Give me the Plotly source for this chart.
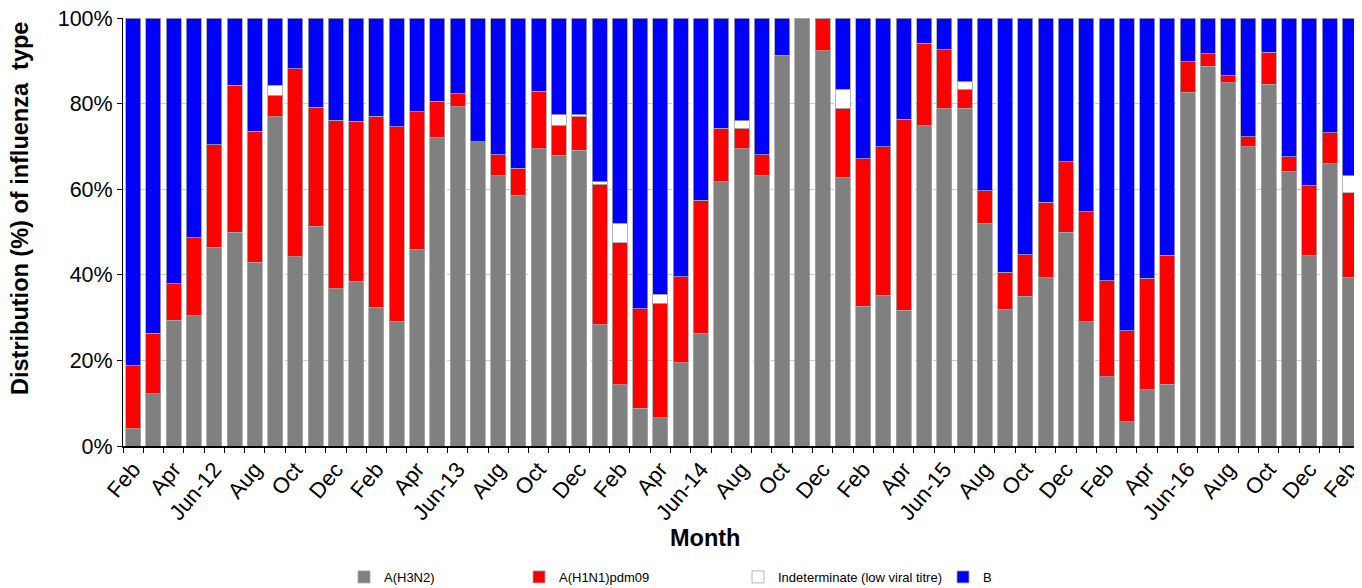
import plotly.graph_objects as go

months = ["Feb-12","Mar-12","Apr-12","May-12","Jun-12","Jul-12","Aug-12","Sep-12","Oct-12","Nov-12","Dec-12",
          "Jan-13","Feb-13","Mar-13","Apr-13","May-13","Jun-13","Jul-13","Aug-13","Sep-13","Oct-13","Nov-13","Dec-13",
          "Jan-14","Feb-14","Mar-14","Apr-14","May-14","Jun-14","Jul-14","Aug-14","Sep-14","Oct-14","Nov-14","Dec-14",
          "Jan-15","Feb-15","Mar-15","Apr-15","May-15","Jun-15","Jul-15","Aug-15","Sep-15","Oct-15","Nov-15","Dec-15",
          "Jan-16","Feb-16","Mar-16","Apr-16","May-16","Jun-16","Jul-16","Aug-16","Sep-16","Oct-16","Nov-16","Dec-16",
          "Jan-17","Feb-17"]

tick_labels = ["Feb","","Apr","","Jun-12","","Aug","","Oct","","Dec",
               "","Feb","","Apr","","Jun-13","","Aug","","Oct","","Dec",
               "","Feb","","Apr","","Jun-14","","Aug","","Oct","","Dec",
               "","Feb","","Apr","","Jun-15","","Aug","","Oct","","Dec",
               "","Feb","","Apr","","Jun-16","","Aug","","Oct","","Dec",
               "","Feb"]

h3n2 = [4.0,12.2,29.4,30.4,46.4,50.0,42.9,76.9,44.2,51.4,36.8,
        38.5,32.4,29.1,46.0,72.1,79.3,71.1,63.2,58.6,69.4,67.9,69.1,
        28.3,14.3,8.8,6.6,19.4,26.3,61.7,69.5,63.2,91.3,100.0,92.3,
        62.8,32.6,35.2,31.7,74.8,78.8,78.9,52.1,31.9,35.0,39.3,50.0,
        29.0,16.2,5.7,13.2,14.4,82.6,88.7,84.9,69.9,84.5,64.2,44.4,
        66.0,39.4]

h1n1 = [14.8,14.2,8.5,18.3,24.0,34.3,30.6,5.0,43.9,27.7,39.3,
        37.4,44.6,45.5,32.1,8.5,3.0,0.0,4.9,6.3,13.5,7.0,7.9,
        32.8,33.2,23.3,26.7,20.1,31.1,12.6,4.7,4.9,0.0,0.0,7.7,
        16.1,34.5,34.7,44.7,19.3,13.8,4.5,7.5,8.7,9.7,17.6,16.4,
        25.7,22.4,21.2,26.0,30.2,7.2,2.9,1.6,2.3,7.5,3.4,16.4,
        7.2,19.8]

indet = [0.0,0.0,0.0,0.0,0.0,0.0,0.0,2.4,0.0,0.0,0.0,
         0.0,0.0,0.0,0.0,0.0,0.0,0.0,0.0,0.0,0.0,2.5,0.4,
         0.6,4.6,0.0,2.1,0.0,0.0,0.0,1.8,0.0,0.0,0.0,0.0,
         4.5,0.0,0.0,0.0,0.0,0.0,1.7,0.0,0.0,0.0,0.0,0.0,
         0.0,0.0,0.0,0.0,0.0,0.0,0.0,0.0,0.0,0.0,0.0,0.0,
         0.0,3.9]

b_type = [round(100 - a - b - c, 1) for a, b, c in zip(h3n2, h1n1, indet)]

series = [
    ("A(H3N2)", h3n2, "#808080", "legend", 383),
    ("A(H1N1)pdm09", h1n1, "#FF0000", "legend2", 558),
    ("Indeterminate (low viral titre)", indet, "#FFFFFF", "legend3", 777),
    ("B", b_type, "#0000FF", "legend4", 982),
]

fig = go.Figure()
for name, vals, color, lg, _ in series:
    fig.add_trace(go.Bar(
        x=months, y=vals, name=name, legend=lg,
        marker=dict(color=color, line=dict(color="#a6a6a6", width=0.8)),
    ))

font = "Liberation Sans, Arial, sans-serif"
OFF = 8  # page body margin
W, H = 1362 - OFF, 588 - OFF
PL, PR, PT, PB = 123 - OFF, 1360 - OFF, 18 - OFF, 446 - OFF

def px_x(page_x):
    return (page_x - OFF - PL) / (PR - PL)

def px_y(page_y):
    return (PB - (page_y - OFF)) / (PB - PT)

def leg(text_x):
    return dict(xref="container", yref="container", x=(text_x - OFF - 39) / W, y=1 - (577 - OFF) / H,
                xanchor="left", yanchor="middle", font=dict(family=font, size=13, color="#000"),
                bgcolor="rgba(0,0,0,0)", itemwidth=30)

legends = {s[3]: leg(s[4]) for s in series}

fig.update_layout(
    width=W, height=H,
    barmode="stack", bargap=0.26,
    plot_bgcolor="white", paper_bgcolor="white",
    margin=dict(l=PL, r=W - PR, t=PT, b=H - PB, autoexpand=False),
    font=dict(family=font, color="#000"),
    showlegend=True,
    **legends,
    xaxis=dict(
        type="category", tickmode="array", tickvals=months, ticktext=tick_labels,
        tickangle=-50, tickfont=dict(size=22, family=font), automargin=False,
        ticklabeloverflow="allow",
        ticks="outside", tickson="boundaries", ticklen=5, tickcolor="#000",
        showline=True, linecolor="#000", linewidth=1.5, showgrid=False,
    ),
    yaxis=dict(
        range=[0, 100], tickvals=[0, 20, 40, 60, 80, 100],
        ticktext=["0%", "20%", "40%", "60%", "80%", "100%"],
        tickfont=dict(size=21.5, family=font), automargin=False,
        ticklabeloverflow="allow",
        ticks="outside", ticklen=5, tickcolor="#000",
        showline=True, linecolor="#000", linewidth=1,
        showgrid=True, gridcolor="#cccccc", griddash="dash", gridwidth=1,
    ),
    annotations=[
        dict(text="<b>Month</b>", xref="paper", yref="paper",
             x=px_x(705), y=px_y(538), xanchor="center", yanchor="middle", showarrow=False,
             font=dict(size=23.5, family=font, color="#000")),
        dict(text="<b>Distribution (%) of influenza  type</b>", xref="paper", yref="paper",
             x=px_x(20), y=px_y(209), xanchor="center", yanchor="middle", showarrow=False,
             textangle=-90, font=dict(size=23.5, family=font, color="#000")),
    ],
)

fig.write_html("out.html")
